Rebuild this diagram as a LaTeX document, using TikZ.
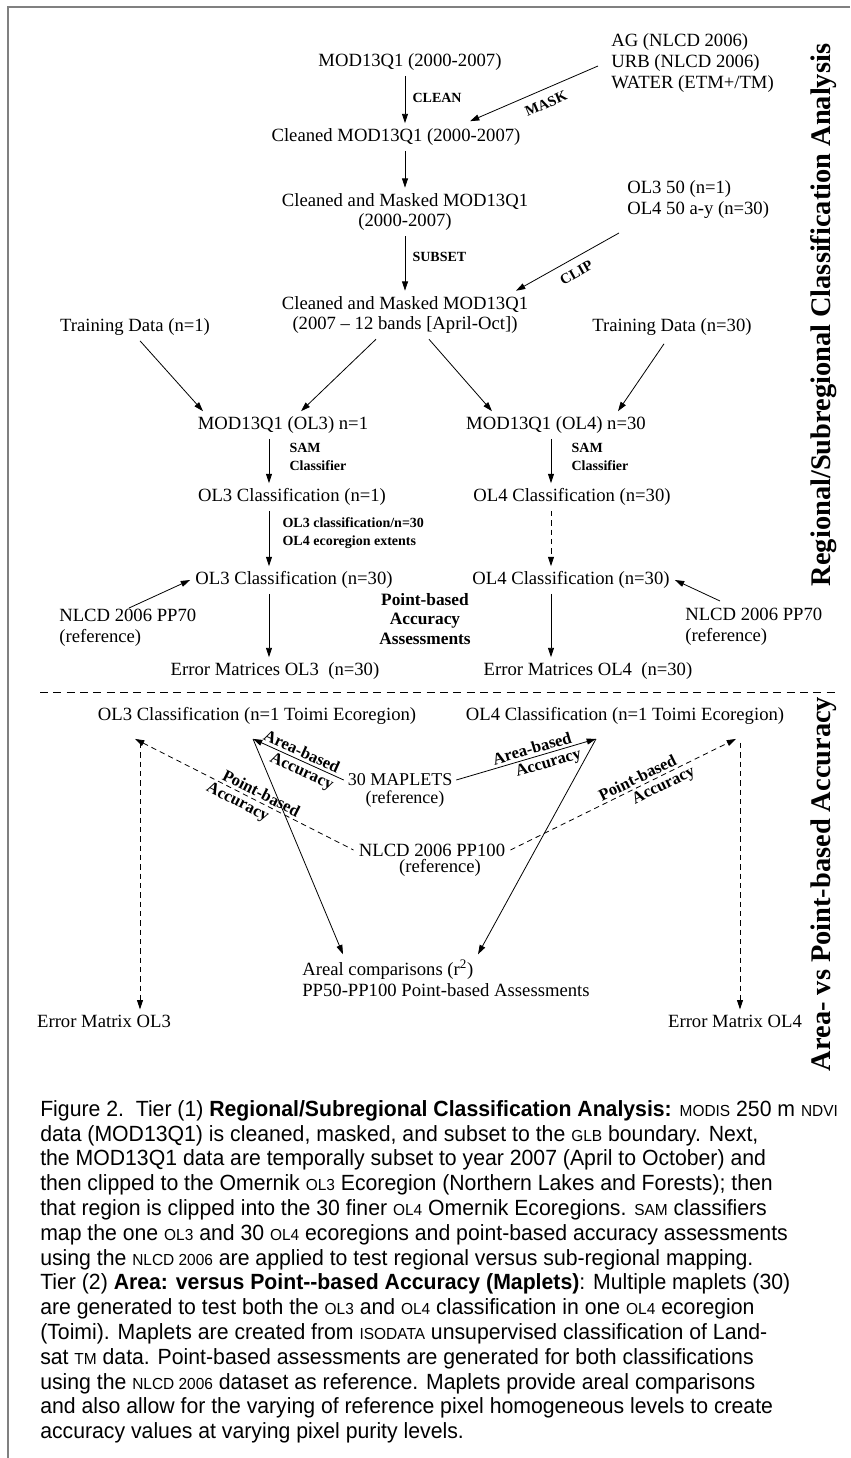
\documentclass[tikz,border=0pt]{standalone}
\usepackage{fontspec}
\setmainfont{Liberation Serif}
\newfontfamily\capfont[FakeStretch=0.965]{Liberation Sans}
\usetikzlibrary{arrows.meta,calc}
\newcommand\fsc[1]{{\fontsize{12}{12}\selectfont #1}}
\newcommand\dfont{\fontsize{14}{15.7}\selectfont}
\begin{document}
\begin{tikzpicture}[x=0.75pt,y=-0.75pt,
  every node/.style={inner sep=1pt},
  dn/.style={font=\dfont, align=center, outer sep=3pt},
  mapf/.style={font=\fontsize{13.5}{14}\selectfont, align=center, outer sep=2pt},
  tagb/.style={font=\bfseries\fontsize{10.5}{14}\selectfont, align=left},
  midb/.style={font=\bfseries\fontsize{13}{14.5}\selectfont, align=center},
  slb/.style={font=\bfseries\fontsize{12.5}{13}\selectfont, sloped, inner sep=2pt},
  tagr/.style={font=\bfseries\fontsize{11}{12}\selectfont, sloped, inner sep=6.5pt},
  arr/.style={-{Triangle[length=7pt,width=4.5pt]}, line width=0.6pt},
  rarr/.style={{Triangle[length=7pt,width=4.5pt]}-, line width=0.6pt},
  darr/.style={arr, dash pattern=on 4pt off 3pt},
  rdarr/.style={rarr, dash pattern=on 4pt off 3pt},
  side/.style={font=\bfseries\fontsize{21.3}{22}\selectfont, rotate=90}]

\useasboundingbox (0,0) rectangle (850,1458);
\draw[line width=1.2pt, black!50] (850,7) -- (8,7) -- (8,1458);

% ---------- Tier 1 ----------
\node[dn] (n1) at (410,62) {MOD13Q1 (2000-2007)};
\node[dn, align=left, anchor=west] (msk) at (606,63) {AG (NLCD 2006)\\URB (NLCD 2006)\\WATER (ETM+/TM)};
\node[dn] (n2) at (396,137) {Cleaned MOD13Q1 (2000-2007)};
\node[dn] (n3) at (405,212) {Cleaned and Masked MOD13Q1\\(2000-2007)};
\node[dn, align=left, anchor=west] (clp) at (622,200) {OL3 50 (n=1)\\OL4 50 a-y (n=30)};
\node[dn] (n4) at (405,315) {Cleaned and Masked MOD13Q1\\(2007 -- 12 bands [April-Oct])};
\node[dn] (td1) at (135,327) {Training Data (n=1)};
\node[dn] (td2) at (672,327) {Training Data (n=30)};
\node[dn] (m3) at (283,425) {MOD13Q1 (OL3) n=1};
\node[dn] (m4) at (556,425) {MOD13Q1 (OL4) n=30};
\node[dn] (c3a) at (292,497) {OL3 Classification (n=1)};
\node[dn] (c4a) at (572,497) {OL4 Classification (n=30)};
\node[dn] (c3b) at (294,580) {OL3 Classification (n=30)};
\node[dn] (c4b) at (571,580) {OL4 Classification (n=30)};
\node[dn, align=left, anchor=west] (r1) at (54,628) {NLCD 2006 PP70\\(reference)};
\node[dn, align=left, anchor=west] (r2) at (680,627) {NLCD 2006 PP70\\(reference)};
\node[midb] (pba) at (425,619) {Point-based\\Accuracy\\Assessments};
\node[dn] (e3) at (275,671) {Error Matrices OL3\ \ (n=30)};
\node[dn] (e4) at (588,671) {Error Matrices OL4\ \ (n=30)};

\node[tagb, anchor=west] (lclean) at (411,98) {CLEAN};
\node[tagb, anchor=west] (lsub) at (411,257) {SUBSET};
\node[tagb, anchor=west] (lsam3) at (288,457) {SAM\\Classifier};
\node[tagb, anchor=west] (lsam4) at (570,457) {SAM\\Classifier};
\node[tagb, anchor=west] (lol) at (281,533) {OL3 classification/n=30\\OL4 ecoregion extents};

\draw[arr] (n1.south -| n3) -- (n2.north -| n3);
\draw[arr] (n2.south -| n3) -- (n3.north);
\draw[arr] (n3.south) -- (n4.north);
\draw[rarr] ($(n2.north)+(74,-2)$) -- node[tagr, below, pos=0.55] {MASK} ($(msk.west)+(-8,3)$);
\draw[rarr] ($(n4.north)+(111,0)$) -- node[tagr, below, pos=0.52] {CLIP} ($(clp.west)+(-3,33)$);
\draw[arr] ($(td1.south)+(5,0)$) -- ($(m3.north)+(-80,0)$);
\draw[arr] ($(n4.south)+(-29,0)$) -- ($(m3.north)+(18,0)$);
\draw[arr] ($(n4.south)+(24,0)$) -- ($(m4.north)+(-64,0)$);
\draw[arr] ($(td2.south)+(-8,3)$) -- ($(m4.north)+(62,0)$);
\draw[arr] (m3.south -| 269,0) -- (c3a.north -| 269,0);
\draw[arr] (m4.south -| 551,0) -- (c4a.north -| 551,0);
\draw[arr] (c3a.south -| 269,0) -- (c3b.north -| 269,0);
\draw[darr] (c4a.south -| 551,0) -- (c4b.north -| 551,0);
\draw[arr] ($(r1.north west)+(75,4)$) -- (c3b.west);
\draw[arr] ($(r2.north west)+(40,-2)$) -- (c4b.east);
\draw[arr] (c3b.south -| 269,0) -- (e3.north -| 269,0);
\draw[arr] (c4b.south -| 551,0) -- (e4.north -| 551,0);

\draw[line width=0.6pt, dash pattern=on 6pt off 4pt] (40,692) -- (838,692);

% ---------- Tier 2 ----------
\node[dn] (t3) at (257,716) {OL3 Classification (n=1 Toimi Ecoregion)};
\node[dn] (t4) at (625,716) {OL4 Classification (n=1 Toimi Ecoregion)};
\node[mapf] (map) at (400,780) {30 MAPLETS};
\node[mapf] (mapr) at (405,799) {(reference)};
\node[dn] (pp) at (432,850) {NLCD 2006 PP100};
\node[dn] (ppr) at (440,868) {(reference)};
\node[dn, align=left, anchor=west] (ar) at (297,978) {Areal comparisons (r\textsuperscript{2})\\PP50-PP100 Point-based Assessments};
\node[dn] (em3) at (104,1021) {Error Matrix OL3};
\node[dn] (em4) at (735,1021) {Error Matrix OL4};

\coordinate (t3p) at ($(t3.south)+(-122,9)$);
\coordinate (t3a) at ($(t3.south)+(-4,9)$);
\coordinate (t4a) at ($(t4.south)+(-29,9)$);
\coordinate (t4p) at ($(t4.south)+(111,9)$);

\draw[rarr] (t3a) -- node[slb, above, pos=0.5] {Area-based} node[slb, below, pos=0.58] {Accuracy} (map.west);
\draw[arr] (map.east) -- node[slb, above, pos=0.56] {Area-based} node[slb, below, pos=0.64] {Accuracy} (t4a);
\draw[rdarr] (t3p) -- node[slb, above, pos=0.56] {Point-based} node[slb, below, pos=0.49] {Accuracy} (pp.west);
\draw[darr] (pp.east) -- node[slb, above, pos=0.58] {Point-based} node[slb, below, pos=0.66] {Accuracy} (t4p);
\draw[arr] (t3a) -- ($(ar.north west)+(46,0)$);
\draw[arr] (t4a) -- ($(ar.north west)+(181,0)$);
\draw[darr] ($(t3p)+(5,4)$) -- (em3.north -| 140,0);
\draw[darr] ($(t4p)+(4,4)$) -- (em4.north -| 740,0);

\node[side] (s1) at (824,315) {Regional/Subregional Classification Analysis};
\node[side] (s2) at (824,884) {Area- vs Point-based Accuracy};

% ---------- Caption ----------
\node[anchor=north west, inner sep=0pt, align=left,
      font=\capfont\fontsize{16.5}{18.6}\selectfont] (cap) at (40,1100) {%
Figure 2.\ \ Tier (1) \textbf{Regional/Subregional Classification Analysis:} \fsc{MODIS} 250 m \fsc{NDVI}\\
data (MOD13Q1) is cleaned, masked, and subset to the \fsc{GLB} boundary. Next,\\
the MOD13Q1 data are temporally subset to year 2007 (April to October) and\\
then clipped to the Omernik \fsc{OL3} Ecoregion (Northern Lakes and Forests); then\\
that region is clipped into the 30 finer \fsc{OL4} Omernik Ecoregions. \fsc{SAM} classifiers\\
map the one \fsc{OL3} and 30 \fsc{OL4} ecoregions and point-based accuracy assessments\\
using the \fsc{NLCD 2006} are applied to test regional versus sub-regional mapping.\\
Tier (2) \textbf{Area: versus Point--based Accuracy (Maplets)}: Multiple maplets (30)\\
are generated to test both the \fsc{OL3} and \fsc{OL4} classification in one \fsc{OL4} ecoregion\\
(Toimi). Maplets are created from \fsc{ISODATA} unsupervised classification of Land-\\
sat \fsc{TM} data. Point-based assessments are generated for both classifications\\
using the \fsc{NLCD 2006} dataset as reference. Maplets provide areal comparisons\\
and also allow for the varying of reference pixel homogeneous levels to create\\
accuracy values at varying pixel purity levels.};
\end{tikzpicture}
\end{document}
